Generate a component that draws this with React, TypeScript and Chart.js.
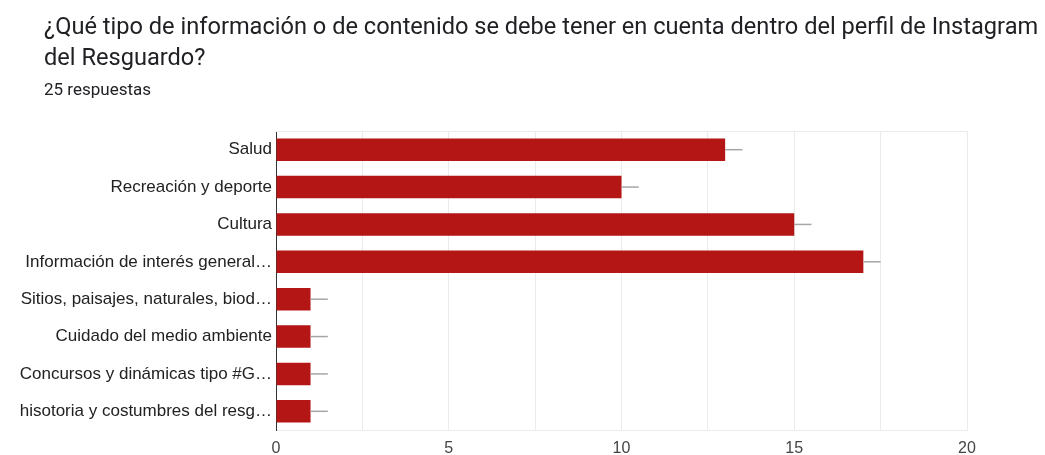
import React, { useEffect, useRef } from "react";
import { Chart, registerables } from "chart.js";

Chart.register(...registerables);

const TITLE_LINE_1 = "¿Qué tipo de información o de contenido se debe tener en cuenta dentro del perfil de Instagram";
const TITLE_LINE_2 = "del Resguardo?";
const SUBTITLE = "25 respuestas";

const categories = [
  "Salud",
  "Recreación y deporte",
  "Cultura",
  "Información de interés general…",
  "Sitios, paisajes, naturales, biod…",
  "Cuidado del medio ambiente",
  "Concursos y dinámicas tipo #G…",
  "hisotoria y costumbres del resg…",
];
const responses = [13, 10, 15, 17, 1, 1, 1, 1];
const errorAmount = [0.5, 0.5, 0.5, 0.5, 0.5, 0.5, 0.5, 0.5];
const xTickLabels = ["0", "5", "10", "15", "20"];

const errorBarPlugin = {
  id: "errorBars",
  afterDatasetsDraw(chart: any) {
    const ctx = chart.ctx;
    const meta = chart.getDatasetMeta(0);
    const xs = chart.scales.x;
    ctx.save();
    ctx.strokeStyle = "#a6a6a6";
    ctx.lineWidth = 1.5;
    meta.data.forEach((bar: any, i: number) => {
      const x0 = xs.getPixelForValue(responses[i]);
      const x1 = xs.getPixelForValue(responses[i] + errorAmount[i]);
      ctx.beginPath();
      ctx.moveTo(x0, bar.y);
      ctx.lineTo(x1, bar.y);
      ctx.stroke();
    });
    ctx.restore();
  },
};

const frameTopPlugin = {
  id: "frameTop",
  beforeDatasetsDraw(chart: any) {
    const { ctx, chartArea } = chart;
    ctx.save();
    ctx.strokeStyle = "#ebebeb";
    ctx.lineWidth = 1;
    ctx.beginPath();
    ctx.moveTo(chartArea.left, chartArea.top + 0.5);
    ctx.lineTo(chartArea.right, chartArea.top + 0.5);
    ctx.stroke();
    ctx.restore();
  },
};

export default function App() {
  const canvasRef = useRef<HTMLCanvasElement | null>(null);

  useEffect(() => {
    const canvas = canvasRef.current;
    if (!canvas) return;
    const chart = new Chart(canvas, {
      type: "bar",
      data: {
        labels: categories,
        datasets: [
          {
            data: responses,
            backgroundColor: "#b31614",
            borderWidth: 0,
            barPercentage: 0.6,
            categoryPercentage: 1,
          },
        ],
      },
      options: {
        indexAxis: "y",
        animation: false,
        responsive: false,
        devicePixelRatio: 1,
        layout: { padding: { left: 0, right: 78, top: 131, bottom: 0 } },
        plugins: {
          legend: { display: false },
          tooltip: { enabled: false },
          title: { display: false },
        },
        scales: {
          x: {
            min: 0,
            max: 20,
            ticks: {
              stepSize: 2.5,
              padding: 9,
              color: "#444444",
              font: { family: "'Liberation Sans', Arial, sans-serif", size: 16 },
              maxRotation: 0,
              autoSkip: false,
              callback: (v: any) => {
                const s = String(v);
                return xTickLabels.includes(s) ? s : "";
              },
            },
            grid: { color: "#ebebeb", drawTicks: false, lineWidth: 1 },
            border: { display: true, color: "#ebebeb" },
            afterFit: (scale: any) => {
              scale.height = 25;
            },
          },
          y: {
            ticks: {
              padding: 4,
              color: "#222222",
              font: { family: "'Liberation Sans', Arial, sans-serif", size: 17 },
              autoSkip: false,
            },
            grid: { display: false, drawTicks: false },
            border: { display: true, color: "#333333", width: 1 },
            afterFit: (scale: any) => {
              scale.width = 276;
            },
          },
        },
      },
      plugins: [frameTopPlugin, errorBarPlugin],
    });
    return () => chart.destroy();
  }, []);

  return (
    <div style={{ position: "fixed", left: 0, top: 0, width: 1045, height: 455, background: "#ffffff", overflow: "hidden" }}>
      <canvas ref={canvasRef} width={1045} height={455} style={{ position: "absolute", left: 0, top: 0 }} />
      <div
        style={{
          position: "absolute",
          left: 44,
          top: 11,
          fontFamily: "Roboto, 'Noto Sans', sans-serif",
          fontSize: 23.6,
          lineHeight: "31px",
          color: "#202124",
          whiteSpace: "nowrap",
        }}
      >
        <div>{TITLE_LINE_1}</div>
        <div>{TITLE_LINE_2}</div>
      </div>
      <div
        style={{
          position: "absolute",
          left: 44,
          top: 79,
          fontFamily: "Roboto, 'Noto Sans', sans-serif",
          fontSize: 17,
          lineHeight: "20px",
          color: "#202124",
          whiteSpace: "nowrap",
        }}
      >
        {SUBTITLE}
      </div>
    </div>
  );
}
